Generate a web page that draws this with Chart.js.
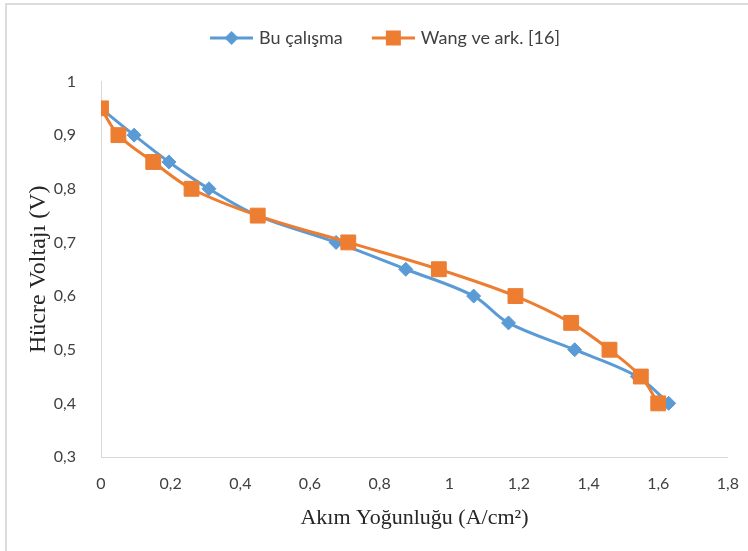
<!DOCTYPE html>
<html>
<head>
<meta charset="utf-8">
<script src="https://cdn.jsdelivr.net/npm/chart.js@4.4.1/dist/chart.umd.min.js"></script>
<style>
  html, body { margin: 0; padding: 0; background: #fff; overflow: hidden; }
  #wrap { position: relative; width: 748px; height: 551px; }
  #frame { position: absolute; left: 5px; top: 3px; width: 760px; height: 560px;
           border-left: 2px solid #dcdcdc; border-top: 2px solid #dcdcdc; }
  #chart { position: absolute; left: 0; top: 0; }
</style>
</head>
<body>
<div id="wrap">
  <div id="frame"></div>
  <canvas id="chart" width="748" height="551"></canvas>
</div>
<script>
// values
const seriesNames = ['Bu çalışma', 'Wang ve ark. [16]'];
const buX = [0, 0.095, 0.195, 0.31, 0.45, 0.675, 0.875, 1.07, 1.17, 1.36, 1.54, 1.63];
const buY = [0.95, 0.9, 0.85, 0.8, 0.75, 0.7, 0.65, 0.6, 0.55, 0.5, 0.45, 0.4];
const wangX = [0, 0.05, 0.15, 0.26, 0.45, 0.71, 0.97, 1.19, 1.35, 1.46, 1.55, 1.6];
const wangY = [0.95, 0.9, 0.85, 0.8, 0.75, 0.7, 0.65, 0.6, 0.55, 0.5, 0.45, 0.4];
const xTitle = 'Akım Yoğunluğu (A/cm²)';
const yTitle = 'Hücre Voltajı (V)';

const blue = '#5b9bd5';
const orange = '#ed7d31';
const textColor = '#404040';

const toPoints = (xs, ys) => xs.map((x, i) => ({ x: x, y: ys[i] }));
const fmt = v => Number(v.toFixed(1)).toString().replace('.', ',');

// legend sample: line + marker, like Excel
function legendMark(color, shape) {
    const c = document.createElement('canvas');
    c.width = 65; c.height = 20;
    const g = c.getContext('2d');
    g.strokeStyle = color;
    g.fillStyle = color;
    g.lineWidth = 3;
    g.beginPath(); g.moveTo(22, 10); g.lineTo(65, 10); g.stroke();
    const cx = 43.5, cy = 10;
    g.beginPath();
    if (shape === 'diamond') {
        g.moveTo(cx, cy - 7); g.lineTo(cx + 7, cy); g.lineTo(cx, cy + 7); g.lineTo(cx - 7, cy);
        g.closePath();
    } else {
        g.rect(cx - 7.5, cy - 7.5, 15, 15);
    }
    g.fill();
    return c;
}
const marks = [legendMark(blue, 'diamond'), legendMark(orange, 'square')];

const ctx = document.getElementById('chart').getContext('2d');
const chart = new Chart(ctx, {
    type: 'scatter',
    data: {
        datasets: [
            {
                label: seriesNames[0],
                data: toPoints(buX, buY),
                xAxisID: 'x',
                showLine: true,
                borderColor: blue,
                backgroundColor: blue,
                borderWidth: 3,
                tension: 0.35,
                pointStyle: 'rectRot',
                pointRadius: 7,
                pointBorderWidth: 1,
                order: 1
            },
            {
                label: seriesNames[1],
                data: toPoints(wangX, wangY),
                xAxisID: 'x',
                showLine: true,
                borderColor: orange,
                backgroundColor: orange,
                borderWidth: 3,
                tension: 0.35,
                pointStyle: 'rect',
                pointRadius: 10.5,
                pointBorderWidth: 1,
                order: 0
            }
        ]
    },
    options: {
        responsive: false,
        animation: false,
        layout: { padding: { left: 18, right: 15, top: 19, bottom: 0 } },
        plugins: {
            tooltip: { enabled: false },
            legend: {
                position: 'top',
                labels: {
                    usePointStyle: true,
                    pointStyleWidth: 59,
                    padding: 10,
                    color: textColor,
                    font: { family: 'Lato', size: 18 },
                    generateLabels: (c) => c.data.datasets.map((ds, i) => ({
                        text: ds.label,
                        pointStyle: marks[i],
                        fillStyle: ds.borderColor,
                        strokeStyle: ds.borderColor,
                        lineWidth: 0,
                        hidden: false,
                        datasetIndex: i,
                        fontColor: textColor
                    }))
                }
            }
        },
        scales: {
            x: {
                type: 'linear',
                position: 'bottom',
                min: 0,
                max: 1.8,
                afterFit: s => { s.height = 94; },
                grid: { display: false },
                border: { display: true, color: '#d9d9d9', width: 1 },
                ticks: {
                    stepSize: 0.2,
                    padding: 9,
                    color: textColor,
                    font: { family: 'Lato', size: 16 },
                    callback: v => fmt(v)
                },
                title: {
                    display: true,
                    text: xTitle,
                    color: '#262626',
                    font: { family: 'Liberation Serif', size: 22 },
                    padding: { top: 0, bottom: 20 }
                }
            },
            // spacer between legend and plot area
            gap: {
                type: 'linear',
                position: 'top',
                display: true,
                afterFit: s => { s.height = 24.5; },
                ticks: { display: false },
                grid: { display: false },
                border: { display: false }
            },
            y: {
                type: 'linear',
                min: 0.3,
                max: 1,
                afterFit: s => { s.width = 83; },
                grid: { display: false },
                border: { display: true, color: '#d9d9d9', width: 1 },
                ticks: {
                    stepSize: 0.1,
                    padding: 17,
                    color: textColor,
                    font: { family: 'Lato', size: 16 },
                    callback: v => fmt(v)
                },
                title: {
                    display: true,
                    text: yTitle,
                    color: '#262626',
                    font: { family: 'Liberation Serif', size: 24 },
                    padding: { top: 6, bottom: 0 }
                }
            }
        }
    }
});
</script>
</body>
</html>
